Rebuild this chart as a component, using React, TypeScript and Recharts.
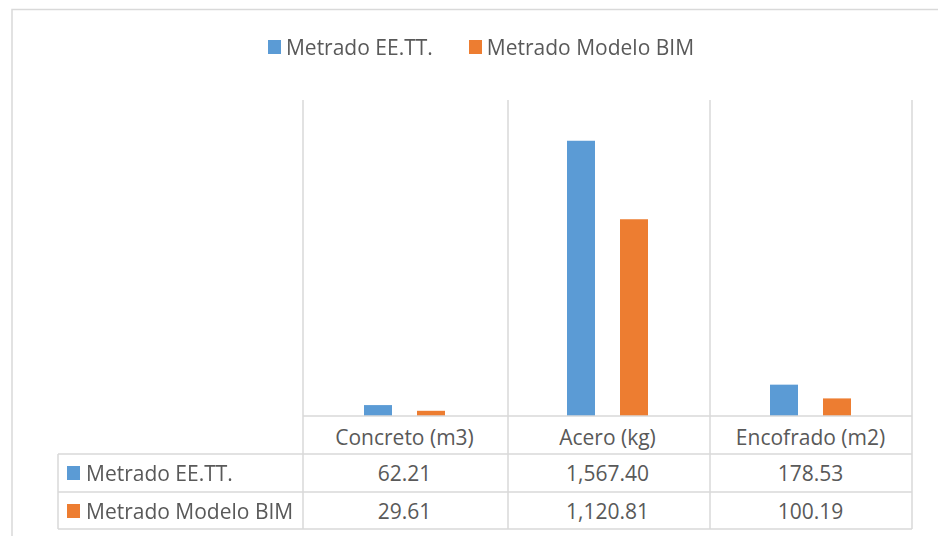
import React from "react";
import { BarChart, Bar, XAxis, YAxis, Legend } from "recharts";

const categories = ["Concreto (m3)", "Acero (kg)", "Encofrado (m2)"];
const seriesNames = ["Metrado EE.TT.", "Metrado Modelo BIM"];
const eettValues = [62.21, 1567.4, 178.53];
const bimValues = [29.61, 1120.81, 100.19];
const yDomain = [0, 1800];

const colors = ["#5B9BD5", "#ED7D31"];
const seriesValues = [eettValues, bimValues];

const data = categories.map((c, i) => ({
  category: c,
  eett: eettValues[i],
  bim: bimValues[i],
}));

const W = 938;
const H = 536;
const FONT = "'Open Sans', 'Noto Sans', sans-serif";
const FS = 21;
const TEXT = "#595959";
const GRID = "#d9d9d9";

const fmt = (v: number) =>
  v.toLocaleString("en-US", { minimumFractionDigits: 2, maximumFractionDigits: 2 });

function TableTick(props: any) {
  const { x, y, payload } = props;
  const i = categories.indexOf(payload.value);
  return (
    <g fontSize={FS} fontFamily={FONT}>
      <text x={x} y={y + 21} textAnchor="middle" dominantBaseline="central" fill={TEXT}>
        {payload.value}
      </text>
      {seriesValues.map((vals, r) => (
        <text
          key={r}
          x={x}
          y={y + 57 + r * 38}
          textAnchor="middle"
          dominantBaseline="central"
          fill={TEXT}
        >
          {fmt(vals[i])}
        </text>
      ))}
    </g>
  );
}

function TopLegend() {
  return (
    <div
      style={{
        display: "flex",
        justifyContent: "center",
        gap: 36,
        fontFamily: FONT,
        fontSize: FS,
        color: TEXT,
        lineHeight: "28px",
      }}
    >
      {seriesNames.map((n, i) => (
        <div key={n} style={{ display: "flex", alignItems: "center" }}>
          <span
            style={{ width: 13, height: 14, background: colors[i], marginRight: 5, display: "inline-block" }}
          />
          {n}
        </div>
      ))}
    </div>
  );
}

export default function App() {
  const colX = [303, 508, 710, 912];
  return (
    <div style={{ position: "fixed", left: 0, top: 0, width: W, height: H, background: "#fff" }}>
      <BarChart
        width={W}
        height={H}
        data={data}
        margin={{ top: 100, right: 26, left: 303, bottom: 0 }}
        barSize={28}
        barGap={25}
      >
        <XAxis
          dataKey="category"
          height={120}
          tickSize={0}
          tickMargin={0}
          tickLine={false}
          axisLine={{ stroke: GRID, strokeWidth: 1.5 }}
          tick={<TableTick />}
          interval={0}
        />
        <YAxis hide domain={yDomain} />
        <Legend
          layout="horizontal"
          verticalAlign="middle"
          align="center"
          wrapperStyle={{ top: 33, left: 0, width: 962 }}
          content={() => <TopLegend />}
        />
        <Bar dataKey="eett" name={seriesNames[0]} fill={colors[0]} isAnimationActive={false} />
        <Bar dataKey="bim" name={seriesNames[1]} fill={colors[1]} isAnimationActive={false} />
      </BarChart>
      <svg
        width={W}
        height={H}
        style={{ position: "absolute", left: 0, top: 0, pointerEvents: "none" }}
      >
        <path d={`M12 ${H} V9.5 H${W}`} stroke={GRID} strokeWidth={1.5} fill="none" />
        {colX.map((x) => (
          <line key={x} x1={x} x2={x} y1={100} y2={529} stroke={GRID} strokeWidth={1.5} />
        ))}
        {[454, 492, 529].map((y) => (
          <line key={y} x1={58} x2={912} y1={y} y2={y} stroke={GRID} strokeWidth={1.5} />
        ))}
        <line x1={58} x2={58} y1={454} y2={529} stroke={GRID} strokeWidth={1.5} />
        {seriesNames.map((n, r) => (
          <g key={n}>
            <rect x={67} y={466 + r * 38} width={13} height={14} fill={colors[r]} />
            <text
              x={86}
              y={473 + r * 38}
              dominantBaseline="central"
              fill={TEXT}
              fontSize={FS}
              fontFamily={FONT}
            >
              {n}
            </text>
          </g>
        ))}
      </svg>
    </div>
  );
}
